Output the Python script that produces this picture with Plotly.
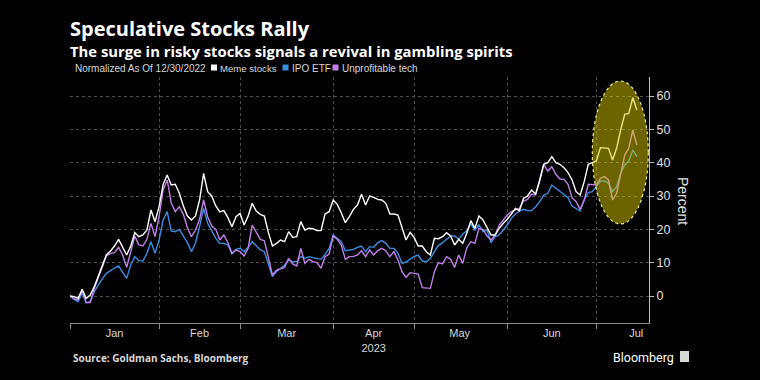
import pandas as pd
import plotly.graph_objects as go

# ---------------- data ----------------
meme_stocks = [
    0, -0.2, -0.7, 2, -0.7, 0.3, 2.8, 6, 9.5, 12.4,
    13.5, 15, 17, 14.8, 12.3, 15, 19, 17.8, 18.3, 19.8,
    25.8, 22.3, 26.8, 33.5, 36.3, 33.3, 33.5, 30.8, 27, 24,
    22.8, 24, 28.8, 36.8, 31.3, 30, 27, 25.2, 25.6, 23.5,
    20.8, 23.8, 24.8, 21.3, 24, 27.8, 25.5, 24.5, 24, 19,
    15, 15.8, 16.8, 16.3, 19.3, 17.6, 17.8, 22.3, 19.8, 20.3,
    20.2, 19.6, 19.6, 24.6, 25.3, 28.8, 27.5, 25, 22, 23.8,
    26, 27.3, 30.5, 27.3, 30, 29.6, 29, 28.8, 27.8, 24.6,
    24.6, 24.3, 20.5, 16.8, 19.1, 17.5, 15, 15, 13.3, 12.3,
    17.3, 17.2, 17.8, 19, 18, 15.3, 17, 15.8, 18.8, 22.6,
    20.3, 24, 22.8, 20.6, 18.3, 18.3, 20.3, 21.8, 23, 24.6,
    26.3, 25.6, 29.3, 30, 31.8, 30.6, 34.5, 39.5, 40, 41.8,
    40, 39.5, 38.5, 37, 34.8, 31.3, 30.3, 34.3, 39.5, 40,
    40.5, 44.5, 44.5, 44.3, 40.8, 44.3, 49.8, 54.5, 54.8, 59.5,
    55.8,
]
ipo_etf = [
    0, -1, -1.7, 1, -2, -1.7, 1.3, 3.3, 5.2, 6.8,
    7.7, 8.4, 9, 7.3, 5.3, 9.3, 11.8, 10.6, 10.5, 12.8,
    16.3, 12.8, 16.8, 22.8, 25.3, 19.5, 19.3, 20, 18, 16,
    13.3, 16, 20.8, 26.3, 21.8, 19.3, 17.3, 15.8, 15.8, 15.3,
    12.6, 14, 14.3, 13.3, 14.6, 16.3, 15, 13.8, 13.3, 9.3,
    5.8, 7.3, 8.3, 9.3, 10.8, 10.3, 10.3, 11.8, 11.3, 11.8,
    11.5, 11.2, 11, 12.5, 14.3, 18.3, 17.3, 16.3, 13.6, 13.8,
    14, 14.6, 15, 13.3, 14.8, 14.6, 16, 16.6, 15.8, 14.3,
    14.3, 12.8, 9.8, 10.2, 11.1, 11.9, 12.3, 10.5, 10.3, 11.3,
    13.3, 15.2, 16, 17, 18, 18, 17, 18.6, 19.6, 21.6,
    19.8, 21.3, 19.3, 19.8, 16, 17.8, 18.3, 19.8, 21.3, 23.3,
    24.6, 25.5, 26, 25.6, 25.6, 26.8, 28.3, 30.2, 30.8, 33.3,
    32.3, 31.3, 30.3, 29.5, 27, 26.3, 25.5, 28.8, 31, 31.3,
    33, 34.5, 34.5, 33.8, 31.3, 32.8, 36.8, 39.3, 40.5, 43.8,
    41.8,
]
unprofitable_tech = [
    0, -0.8, -1.2, 1.6, -2, -2, 2.3, 5.5, 9, 12,
    12.8, 13, 14.6, 12.3, 8.6, 13.3, 18, 15.3, 15, 17,
    21.8, 17.8, 23.8, 31.8, 34.8, 28, 25.3, 26.8, 24.5, 20.5,
    17.8, 19.8, 23, 28.8, 23.8, 21, 20, 16.8, 18.3, 16,
    12.8, 13.8, 13.3, 12, 14.3, 21.3, 19, 17, 16.6, 11,
    6.3, 7.8, 8.3, 8.6, 11.3, 9.6, 9, 14.3, 9.8, 11,
    10.3, 10, 8.3, 11.8, 12.6, 18, 17, 15.3, 11, 11.8,
    11.9, 12.3, 13.6, 11.8, 13.8, 12.3, 13.6, 14.3, 13.6, 11.8,
    13.3, 10.8, 7.3, 5.6, 7, 6.8, 6.6, 2.5, 2.3, 2.3,
    7.3, 10, 9.6, 11.8, 11, 8.6, 12.3, 9.8, 14.5, 16.3,
    15.8, 20.3, 20, 18, 16.8, 18.3, 21.3, 22.8, 24.3, 25.3,
    25.8, 26.3, 28.5, 29, 30.6, 30.3, 35, 39.5, 37.5, 38.8,
    36.5, 35.1, 35, 33.5, 29.5, 28.3, 26, 28.8, 33.5, 33.5,
    33.3, 35.3, 35.8, 34.8, 28.8, 30.8, 36.8, 42.3, 44.3, 49.8,
    45.3,
]
dates = pd.bdate_range("2022-12-30", periods=len(meme_stocks))

series_names = ["Meme stocks", "IPO ETF", "Unprofitable tech"]
month_labels = ["Jan", "Feb", "Mar", "Apr<br>2023", "May", "Jun", "Jul"]
month_label_dates = ["2023-01-16", "2023-02-14", "2023-03-15 12:00", "2023-04-14",
                     "2023-05-15 06:00", "2023-06-15", "2023-07-13 20:00"]
month_boundaries = ["2022-12-30", "2023-01-31", "2023-02-28", "2023-03-31",
                    "2023-04-28", "2023-05-31", "2023-06-30"]
y_ticks = [0, 10, 20, 30, 40, 50, 60]

title_text = "Speculative Stocks Rally"
subtitle_text = "The surge in risky stocks signals a revival in gambling spirits"

# ---------------- styling ----------------
WHITE = "#ffffff"
BLUE = "#3a8ee2"
PURPLE = "#c27fec"
SMALL = "Liberation Sans, Arial, sans-serif"
BOLD = "Open Sans, Roboto, sans-serif"

W, H = 760, 380
L, R, T, B = 70, 111, 77, 57
PW, PH = W - L - R, H - T - B


def px2x(px):
    return (px - L) / PW


def px2y(py):
    return (H - B - py) / PH


fig = go.Figure()
for vals, name, col in [(ipo_etf, series_names[1], BLUE),
                        (unprofitable_tech, series_names[2], PURPLE),
                        (meme_stocks, series_names[0], WHITE)]:
    fig.add_trace(go.Scatter(x=dates, y=vals, name=name, mode="lines",
                             line=dict(color=col, width=1.4), showlegend=False))

fig.update_layout(
    width=W, height=H,
    margin=dict(l=L, r=R, t=T, b=B, pad=0),
    paper_bgcolor="#000000", plot_bgcolor="#000000",
    font=dict(family=SMALL, color="#d8d8d8", size=11),
    showlegend=False,
)

fig.update_xaxes(
    type="date",
    range=["2022-12-30", "2023-07-19"],
    rangebreaks=[dict(bounds=["sat", "mon"])],
    tickmode="array", tickvals=month_label_dates, ticktext=month_labels,
    ticks="", showgrid=False,
    tickfont=dict(family=SMALL, size=11, color="#d8d8d8"),
    showline=True, linecolor="#8c8c8c", linewidth=1,
    zeroline=False,
    minor=dict(tickmode="array", tickvals=month_boundaries, ticks="outside",
               ticklen=5, tickcolor="#8c8c8c", tickwidth=1,
               showgrid=True, gridcolor="#4e4e4e", griddash="dot", gridwidth=1),
)

fig.update_yaxes(
    side="right",
    range=[-8.1, 65.7],
    tickmode="array", tickvals=y_ticks,
    ticks="outside", ticklen=4, tickcolor="#bdbdbd",
    tickfont=dict(family=SMALL, size=12.5, color="#e0e0e0"),
    showgrid=True, gridcolor="#4e4e4e", griddash="dot", gridwidth=1,
    showline=True, linecolor="#bdbdbd", linewidth=1,
    zeroline=False,
)

# highlight ellipse (drawn above the lines, semi-transparent)
fig.add_shape(type="circle", xref="x", yref="y",
              x0="2023-06-29", x1="2023-07-18 20:00", y0=21.6, y1=64.5,
              fillcolor="rgba(215,200,0,0.5)",
              line=dict(color="#f3ec96", width=1.2, dash="dot"),
              layer="above")

annotations = [
    dict(text="<b>" + title_text + "</b>", x=px2x(68), y=px2y(28.5),
         font=dict(family=BOLD, size=20, color="#ffffff")),
    dict(text="<b>" + subtitle_text + "</b>", x=px2x(68), y=px2y(50.5),
         font=dict(family=BOLD, size=14.8, color="#ffffff")),
    dict(text="Normalized As Of 12/30/2022", x=px2x(73), y=px2y(68.5),
         font=dict(family=SMALL, size=10, color="#d8d8d8")),
    dict(text=series_names[0], x=px2x(218), y=px2y(68.5),
         font=dict(family=SMALL, size=9.6, color="#d8d8d8")),
    dict(text=series_names[1], x=px2x(290), y=px2y(68.5),
         font=dict(family=SMALL, size=10, color="#d8d8d8")),
    dict(text=series_names[2], x=px2x(340), y=px2y(68.5),
         font=dict(family=SMALL, size=10, color="#d8d8d8")),
    dict(text="<b>Source: Goldman Sachs, Bloomberg</b>", x=px2x(71), y=px2y(358),
         font=dict(family=BOLD, size=10, color="#d8d8d8")),
    dict(text="Bloomberg", x=px2x(611), y=px2y(357),
         font=dict(family="Roboto, sans-serif", size=12.5, color="#ffffff")),
]
for a in annotations:
    a.update(xref="paper", yref="paper", xanchor="left", yanchor="middle",
             showarrow=False)
    fig.add_annotation(**a)

fig.add_annotation(text="Percent", xref="paper", yref="paper",
                   x=px2x(683), y=px2y(201), textangle=90, showarrow=False,
                   xanchor="center", yanchor="middle",
                   font=dict(family=SMALL, size=14, color="#e0e0e0"))

# legend squares
for x0, col in [(211, WHITE), (282.5, BLUE), (332.5, PURPLE)]:
    fig.add_shape(type="rect", xref="paper", yref="paper",
                  x0=px2x(x0), x1=px2x(x0 + 6), y0=px2y(70.5), y1=px2y(64.5),
                  fillcolor=col, line=dict(width=0))

# Bloomberg logo mark
fig.add_shape(type="rect", xref="paper", yref="paper",
              x0=px2x(680), x1=px2x(689), y0=px2y(362), y1=px2y(351),
              fillcolor="#d9d9d9", line=dict(width=0))

fig.write_html("out.html",
               config={"displayModeBar": False},
               post_script="document.body.style.margin='0';document.body.style.background='#000';")
